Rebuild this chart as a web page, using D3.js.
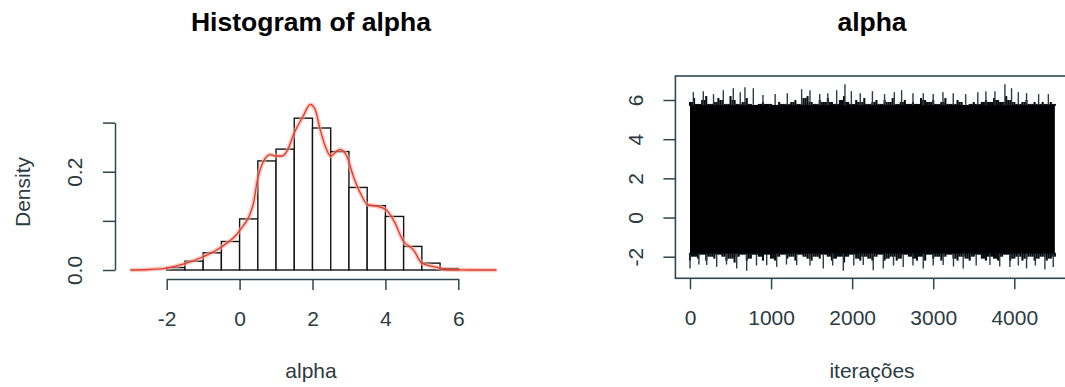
<!DOCTYPE html>
<html>
<head>
<meta charset="utf-8">
<script src="https://cdn.jsdelivr.net/npm/d3@7"></script>
<style>
  body { margin: 0; background: #fff; }
  svg { display: block; font-family: "Liberation Sans", Arial, sans-serif; }
</style>
</head>
<body>
<div id="chart"></div>
<script>
// Histogram of alpha (density scale)
const histBreaks  = [-2, -1.5, -1, -0.5, 0, 0.5, 1, 1.5, 2, 2.5, 3, 3.5, 4, 4.5, 5, 5.5, 6];
const histDensity = [0.005, 0.018, 0.035, 0.058, 0.104, 0.222, 0.246, 0.309, 0.289, 0.241,
                     0.168, 0.131, 0.109, 0.048, 0.014, 0.003];
const histXTicks  = [-2, 0, 2, 4, 6];
const histYTicks  = [0, 0.1, 0.2, 0.3];
const histYLabels = ["0.0", "", "0.2", ""];

// kernel density overlay
const densX = [-3.0, -2.5, -2.0, -1.5, -1.0, -0.5, 0.0, 0.38, 0.49, 0.66, 0.84, 0.99, 1.16, 1.30,
               1.50, 1.75, 1.94, 2.07, 2.21, 2.35, 2.50, 2.67, 2.76, 2.94, 3.12, 3.31, 3.51, 3.76,
               4.01, 4.22, 4.50, 4.77, 5.00, 5.32, 5.68, 6.0, 6.5, 7.05];
const densY = [0, 0.001, 0.004, 0.013, 0.027, 0.047, 0.08, 0.136, 0.184, 0.222, 0.235, 0.232, 0.232, 0.242,
               0.279, 0.314, 0.337, 0.327, 0.286, 0.252, 0.232, 0.242, 0.245, 0.232, 0.191, 0.157, 0.133, 0.130,
               0.123, 0.102, 0.058, 0.041, 0.014, 0.007, 0.001, 0.0005, 0, 0];

// Trace of alpha: solid band, ragged edge per 50 iterations, tallest spikes
const traceCore = [-1.85, 5.75];
const traceIter = [0, 50, 100, 150, 200, 250, 300, 350, 400, 450, 500, 550, 600, 650, 700, 750, 800, 850, 900, 950,
  1000, 1050, 1100, 1150, 1200, 1250, 1300, 1350, 1400, 1450, 1500, 1550, 1600, 1650, 1700, 1750, 1800, 1850, 1900, 1950,
  2000, 2050, 2100, 2150, 2200, 2250, 2300, 2350, 2400, 2450, 2500, 2550, 2600, 2650, 2700, 2750, 2800, 2850, 2900, 2950,
  3000, 3050, 3100, 3150, 3200, 3250, 3300, 3350, 3400, 3450, 3500, 3550, 3600, 3650, 3700, 3750, 3800, 3850, 3900, 3950,
  4000, 4050, 4100, 4150, 4200, 4250, 4300, 4350, 4400, 4450, 4500];
const traceHi = [5.9, 6.1, 5.8, 6.0, 6.2, 5.8, 5.9, 6.1, 6.0, 5.8,
  6.2, 6.0, 5.8, 5.9, 6.1, 5.8, 5.7, 5.8, 5.9, 5.8,
  5.8, 5.7, 5.9, 5.8, 5.8, 5.9, 6.0, 5.8, 6.1, 6.2,
  5.9, 5.8, 6.0, 5.9, 6.1, 5.9, 5.8, 6.0, 6.2, 5.9,
  5.8, 6.0, 5.9, 6.1, 5.8, 5.9, 6.0, 5.8, 6.0, 5.9,
  6.1, 5.8, 5.9, 6.0, 5.8, 5.9, 5.8, 6.1, 6.0, 5.9,
  6.0, 5.8, 5.9, 6.1, 5.8, 5.8, 6.0, 5.9, 5.7, 5.8,
  5.9, 5.8, 5.9, 6.0, 5.9, 6.1, 6.0, 5.9, 6.2, 6.0,
  5.9, 5.8, 5.9, 6.0, 5.8, 5.9, 5.8, 5.9, 5.8, 5.9, 5.8];
const traceLo = [-2.2, -2.0, -2.1, -1.9, -2.2, -2.0, -2.1, -1.9, -2.0, -2.2,
  -2.1, -2.3, -2.0, -1.9, -2.2, -2.1, -1.9, -2.0, -2.2, -1.9,
  -2.1, -2.2, -2.0, -1.9, -2.1, -2.0, -2.2, -1.9, -2.0, -2.1,
  -2.2, -2.0, -2.1, -1.9, -2.0, -2.2, -2.1, -2.0, -2.3, -2.0,
  -1.9, -2.1, -2.2, -2.0, -2.1, -2.2, -2.0, -1.9, -2.2, -2.1,
  -2.0, -2.2, -2.1, -1.9, -2.0, -2.1, -2.2, -2.0, -2.2, -1.9,
  -2.1, -2.0, -2.2, -2.0, -1.9, -2.1, -2.2, -2.0, -2.1, -2.2,
  -2.0, -1.9, -2.1, -2.2, -2.0, -2.1, -2.2, -2.0, -1.9, -2.2,
  -2.1, -2.0, -2.2, -2.1, -2.0, -2.2, -2.1, -2.0, -2.2, -2.1, -2.0];
const spikesUp = [[41, 6.4], [164, 6.45], [290, 6.3], [411, 6.5], [534, 6.6], [620, 6.4], [678, 6.65],
  [781, 6.6], [900, 6.25], [1050, 6.3], [1200, 6.35], [1377, 6.55], [1480, 6.5], [1600, 6.3], [1700, 6.35],
  [1809, 6.5], [1911, 6.8], [1990, 6.45], [2100, 6.35], [2250, 6.45], [2400, 6.3], [2520, 6.4], [2610, 6.5],
  [2750, 6.35], [2877, 6.35], [3000, 6.3], [3120, 6.4], [3247, 6.35], [3400, 6.3], [3550, 6.4], [3650, 6.45],
  [3761, 6.45], [3884, 6.8], [3966, 6.6], [4050, 6.4], [4151, 6.35], [4300, 6.3], [4420, 6.3]];
const spikesDown = [[0, -2.6], [110, -2.4], [206, -2.43], [329, -2.52], [450, -2.4], [576, -2.6], [699, -2.72],
  [820, -2.45], [946, -2.43], [1069, -2.52], [1190, -2.4], [1316, -2.43], [1480, -2.45], [1644, -2.6],
  [1760, -2.45], [1891, -2.72], [2020, -2.45], [2137, -2.43], [2260, -2.69], [2384, -2.6], [2510, -2.45],
  [2630, -2.52], [2750, -2.45], [2877, -2.6], [3000, -2.45], [3123, -2.43], [3250, -2.5], [3370, -2.6],
  [3530, -2.45], [3699, -2.43], [3820, -2.5], [3946, -2.52], [4050, -2.45], [4151, -2.6], [4260, -2.45],
  [4377, -2.65], [4480, -2.52]];
const traceXTicks = [0, 1000, 2000, 3000, 4000];
const traceYTicks = [-2, 0, 2, 4, 6];

const W = 1065, H = 387;
const axisCol = "#2e4650", textCol = "#2c3b42";
const fs = 21;

const svg = d3.select("#chart").append("svg")
  .attr("width", W).attr("height", H);

// ---------- left: histogram ----------
const xH = d3.scaleLinear().domain([-2, 6]).range([166.7, 458.3]);
const yH = d3.scaleLinear().domain([0, 0.3]).range([270, 122.6]);

const bins = histDensity.map((d, i) => ({ x0: histBreaks[i], x1: histBreaks[i + 1], d }));

svg.append("g").selectAll("rect")
  .data(bins)
  .join("rect")
  .attr("x", b => xH(b.x0))
  .attr("y", b => yH(b.d))
  .attr("width", b => xH(b.x1) - xH(b.x0))
  .attr("height", b => yH(0) - yH(b.d))
  .attr("fill", "#fff")
  .attr("stroke", "#141414")
  .attr("stroke-width", 1.4);

const dens = densX.map((x, i) => [x, densY[i]]);
const densLine = d3.line().x(d => xH(d[0])).y(d => yH(d[1])).curve(d3.curveMonotoneX);

svg.append("path").datum(dens)
  .attr("d", densLine)
  .attr("fill", "none")
  .attr("stroke", "#f7ab9d")
  .attr("stroke-opacity", 0.6)
  .attr("stroke-width", 4.5)
  .attr("stroke-linejoin", "round");
svg.append("path").datum(dens)
  .attr("d", densLine)
  .attr("fill", "none")
  .attr("stroke", "#e3372b")
  .attr("stroke-width", 1.3);

// axes
const hx = svg.append("g")
  .attr("transform", "translate(0,279)")
  .call(d3.axisBottom(xH).tickValues(histXTicks).tickSize(11).tickSizeOuter(0).tickPadding(21)
    .tickFormat(d => String(d)));
const hy = svg.append("g")
  .attr("transform", "translate(115,0)")
  .call(d3.axisLeft(yH).tickValues(histYTicks).tickSize(12).tickSizeOuter(0)
    .tickFormat((d, i) => histYLabels[i]));
hy.selectAll(".tick text")
  .attr("x", 0).attr("dy", "0.35em")
  .attr("text-anchor", "middle")
  .attr("transform", "translate(-40.5,0) rotate(-90)");

// ---------- right: trace ----------
const xT = d3.scaleLinear().domain([0, 4000]).range([690, 1014.3]);
const yT = d3.scaleLinear().domain([-2, 6]).range([256.7, 100]);

const trace = traceIter.map((it, i) => ({ it, hi: traceHi[i], lo: traceLo[i] }));

svg.append("rect")
  .attr("x", xT(traceIter[0])).attr("y", yT(traceCore[1]))
  .attr("width", xT(traceIter[traceIter.length - 1]) - xT(traceIter[0]))
  .attr("height", yT(traceCore[0]) - yT(traceCore[1]))
  .attr("fill", "#000");

// ragged edge: one stroke per 50-iteration block
const edge = svg.append("g").attr("stroke", "#070b0d").attr("stroke-width", 2.1);
edge.selectAll("line.hi")
  .data(trace)
  .join("line").attr("class", "hi")
  .attr("x1", d => xT(d.it)).attr("x2", d => xT(d.it))
  .attr("y1", yT(traceCore[1]) + 1).attr("y2", d => yT(d.hi));
edge.selectAll("line.lo")
  .data(trace)
  .join("line").attr("class", "lo")
  .attr("x1", d => xT(d.it)).attr("x2", d => xT(d.it))
  .attr("y1", yT(traceCore[0]) - 1).attr("y2", d => yT(d.lo));
// half-step filler so the edge reads denser
edge.selectAll("line.mid")
  .data(d3.pairs(trace))
  .join("line").attr("class", "mid")
  .attr("x1", d => (xT(d[0].it) + xT(d[1].it)) / 2).attr("x2", d => (xT(d[0].it) + xT(d[1].it)) / 2)
  .attr("y1", yT(traceCore[1]) + 1).attr("y2", d => yT(Math.min(d[0].hi, d[1].hi)));
edge.selectAll("line.midlo")
  .data(d3.pairs(trace))
  .join("line").attr("class", "midlo")
  .attr("x1", d => (xT(d[0].it) + xT(d[1].it)) / 2).attr("x2", d => (xT(d[0].it) + xT(d[1].it)) / 2)
  .attr("y1", yT(traceCore[0]) - 1).attr("y2", d => yT(Math.max(d[0].lo, d[1].lo)));

svg.append("g").selectAll("line")
  .data(spikesUp.concat(spikesDown))
  .join("line")
  .attr("x1", d => xT(d[0])).attr("x2", d => xT(d[0]))
  .attr("y1", d => yT(d[1] > 0 ? traceCore[1] : traceCore[0]))
  .attr("y2", d => yT(d[1]))
  .attr("stroke", "#2a3c46")
  .attr("stroke-width", 1.4);

// frame (R extends the data range by 4%)
const xr = [xT(0 - 4500 * 0.04), xT(4500 * 1.04)];
svg.append("rect")
  .attr("x", xr[0]).attr("y", 76)
  .attr("width", xr[1] - xr[0]).attr("height", 278.3 - 76)
  .attr("fill", "none")
  .attr("stroke", axisCol)
  .attr("stroke-width", 1.6);

const tx = svg.append("g")
  .attr("transform", "translate(0,278.3)")
  .call(d3.axisBottom(xT).tickValues(traceXTicks).tickSize(11).tickSizeOuter(0).tickPadding(21)
    .tickFormat(d => String(d)));
tx.select(".domain").remove();
const ty = svg.append("g")
  .attr("transform", `translate(${xr[0]},0)`)
  .call(d3.axisLeft(yT).tickValues(traceYTicks).tickSize(12).tickSizeOuter(0)
    .tickFormat(d => String(d)));
ty.select(".domain").remove();
ty.selectAll(".tick text")
  .attr("x", 0).attr("dy", "0.35em")
  .attr("text-anchor", "middle")
  .attr("transform", "translate(-40,0) rotate(-90)");

// axis styling
[hx, hy, tx, ty].forEach(g => {
  g.attr("color", axisCol)
   .attr("font-size", fs)
   .attr("font-family", null);
  g.selectAll("line, path").attr("stroke-width", 1.5);
  g.selectAll("text").attr("fill", textCol);
});

// titles and labels
svg.append("text")
  .attr("x", 311).attr("y", 31)
  .attr("text-anchor", "middle")
  .attr("font-weight", "bold").attr("font-size", 26.5)
  .text("Histogram of alpha");
svg.append("text")
  .attr("x", 872).attr("y", 31)
  .attr("text-anchor", "middle")
  .attr("font-weight", "bold").attr("font-size", 26.5)
  .text("alpha");

svg.append("text")
  .attr("x", 311).attr("y", 378)
  .attr("text-anchor", "middle")
  .attr("font-size", fs).attr("fill", textCol)
  .text("alpha");
svg.append("text")
  .attr("x", 872).attr("y", 378)
  .attr("text-anchor", "middle")
  .attr("font-size", fs).attr("fill", textCol)
  .text("iterações");
svg.append("text")
  .attr("transform", "translate(23,192) rotate(-90)")
  .attr("dy", "0.35em")
  .attr("text-anchor", "middle")
  .attr("font-size", fs).attr("fill", textCol)
  .text("Density");
</script>
</body>
</html>
